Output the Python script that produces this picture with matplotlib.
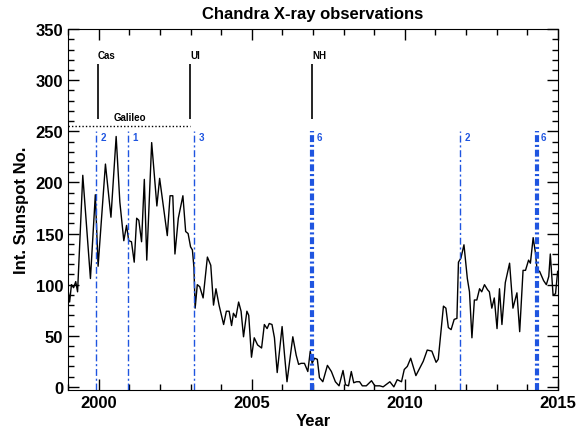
import matplotlib
matplotlib.use('Agg')
import matplotlib.pyplot as plt
from matplotlib.ticker import MultipleLocator

plt.rcParams['font.family'] = ['Liberation Sans', 'DejaVu Sans']
plt.rcParams['lines.scale_dashes'] = False

# Data: integrated sunspot number
years = [1999.00, 1999.05, 1999.11, 1999.18, 1999.25, 1999.31, 1999.48, 1999.73, 1999.89, 1999.98,
         2000.22, 2000.40, 2000.57, 2000.69, 2000.82, 2000.91, 2000.98, 2001.07, 2001.16, 2001.24,
         2001.31, 2001.40, 2001.49, 2001.57, 2001.73, 2001.90, 2001.99, 2002.08, 2002.24, 2002.33,
         2002.42, 2002.49, 2002.60, 2002.75, 2002.84, 2002.92, 2003.00, 2003.06, 2003.11, 2003.15,
         2003.22, 2003.30, 2003.41, 2003.55, 2003.66, 2003.75, 2003.83, 2003.93, 2004.08, 2004.17,
         2004.26, 2004.34, 2004.40, 2004.48, 2004.57, 2004.65, 2004.73, 2004.84, 2004.90, 2004.99,
         2005.08, 2005.19, 2005.32, 2005.41, 2005.50, 2005.57, 2005.66, 2005.74, 2005.83, 2005.99,
         2006.07, 2006.15, 2006.34, 2006.45, 2006.53, 2006.61, 2006.72, 2006.83, 2006.91, 2006.97,
         2007.05, 2007.14, 2007.21, 2007.32, 2007.47, 2007.60, 2007.73, 2007.85, 2007.98, 2008.06,
         2008.16, 2008.25, 2008.33, 2008.42, 2008.52, 2008.61, 2008.74, 2008.91, 2009.02, 2009.18,
         2009.29, 2009.51, 2009.64, 2009.75, 2009.89, 2009.98, 2010.08, 2010.19, 2010.36, 2010.60,
         2010.73, 2010.88, 2011.02, 2011.09, 2011.26, 2011.34, 2011.42, 2011.51, 2011.61, 2011.70,
         2011.75, 2011.83, 2011.93, 2012.04, 2012.11, 2012.19, 2012.27, 2012.35, 2012.44, 2012.51,
         2012.60, 2012.70, 2012.76, 2012.84, 2012.92, 2013.01, 2013.09, 2013.17, 2013.28, 2013.42,
         2013.53, 2013.66, 2013.75, 2013.86, 2013.94, 2014.04, 2014.10, 2014.19, 2014.26, 2014.32,
         2014.40, 2014.53, 2014.62, 2014.70, 2014.75, 2014.84, 2014.92, 2014.99]
sunspots = [95, 83, 100, 97, 103, 93, 207, 106, 188, 118,
            218, 166, 245, 181, 143, 158, 143, 142, 122, 165,
            163, 142, 203, 124, 239, 177, 204, 184, 148, 187,
            187, 130, 165, 187, 152, 150, 137, 134, 117, 77,
            100, 98, 87, 127, 119, 80, 96, 80, 61, 74,
            74, 60, 72, 68, 83, 74, 49, 74, 70, 29,
            48, 41, 38, 61, 57, 62, 61, 48, 14, 59,
            31, 5, 49, 31, 22, 23, 23, 15, 35, 23,
            28, 27, 9, 5, 21, 15, 5, 1, 16, 2,
            1, 15, 4, 5, 5, 1, 1, 6, 1, 1,
            0, 5, 0, 7, 5, 17, 20, 28, 11, 25,
            36, 35, 24, 27, 79, 77, 58, 56, 66, 67,
            122, 126, 139, 106, 93, 48, 85, 85, 96, 93,
            100, 95, 93, 77, 87, 57, 96, 61, 102, 121,
            77, 92, 54, 114, 114, 124, 121, 146, 132, 114,
            113, 104, 100, 108, 130, 90, 91, 113]

# Chandra observation epochs (number of observations)
obs_years = [1999.90, 2000.95, 2003.11, 2006.98, 2011.80, 2014.30]
obs_counts = [2, 1, 3, 6, 2, 6]

# Spacecraft markers
craft_names = ['Cas', 'UI', 'NH']
craft_years = [1999.97, 2002.98, 2006.98]
galileo_span = [1999.0, 2002.98]

blue = '#1f55e0'

fig = plt.figure(figsize=(5.77, 4.31), dpi=100)
ax = fig.add_axes([0.118, 0.093, 0.849, 0.837])

ax.plot(years, sunspots, color='black', lw=1.0)

for yr, n in zip(obs_years, obs_counts):
    lw = 1.0 if n < 6 else 3.0
    ax.plot([yr, yr], [-3, 250], color=blue, lw=lw, dashes=(5, 2, 1.5, 2))
    ax.text(yr + 0.15, 244, str(n), color=blue, fontsize=7, fontweight='bold',
            ha='left', va='center')

for name, yr in zip(craft_names, craft_years):
    ax.vlines(yr, 262, 316, colors='black', lw=1.2)
    ax.text(yr, 325, name, fontsize=7, fontweight='bold', ha='left', va='center')

ax.plot(galileo_span, [255, 255], color='black', lw=1.0, dashes=(1, 1.5))
ax.text(2001.03, 264, 'Galileo', fontsize=7, fontweight='bold', ha='center', va='center')

ax.set_xlim(1999, 2015)
ax.set_ylim(-3, 350)
ax.xaxis.set_major_locator(MultipleLocator(5))
ax.xaxis.set_minor_locator(MultipleLocator(1))
ax.yaxis.set_major_locator(MultipleLocator(50))
ax.yaxis.set_minor_locator(MultipleLocator(10))
ax.tick_params(which='both', direction='in', top=True, right=True, labelsize=12)
ax.tick_params(which='major', length=8, width=1)
ax.tick_params(which='minor', length=4, width=1)
for lbl in ax.get_xticklabels() + ax.get_yticklabels():
    lbl.set_fontweight('bold')

ax.set_title('Chandra X-ray observations', fontsize=12, fontweight='bold', pad=8)
ax.set_xlabel('Year', fontsize=12, fontweight='bold', labelpad=2)
ax.set_ylabel('Int. Sunspot No.', fontsize=12, fontweight='bold', labelpad=5)

fig.savefig('out.png', dpi=100)
